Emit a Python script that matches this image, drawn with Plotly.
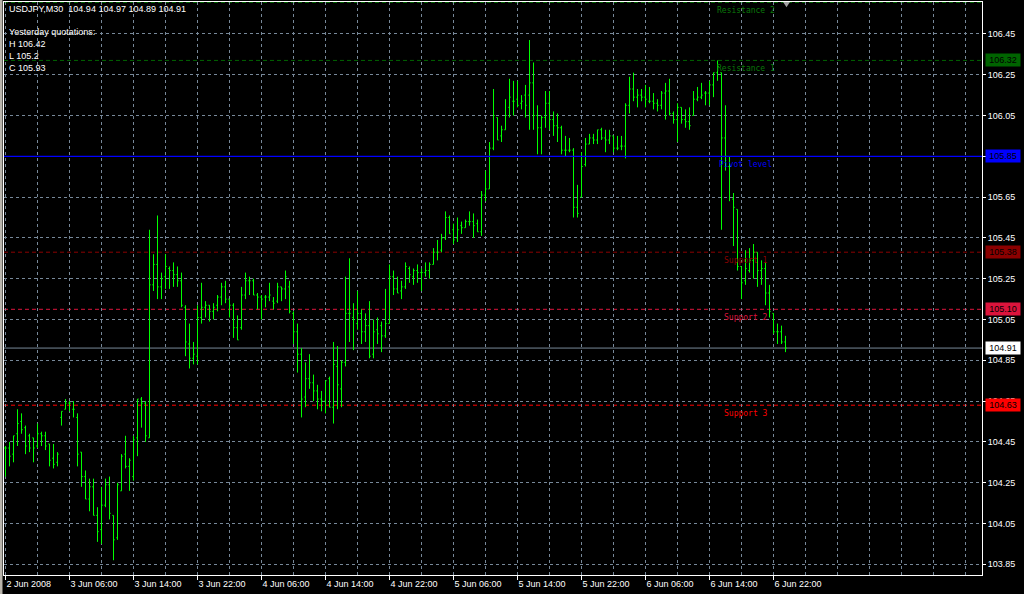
import plotly.graph_objects as go

# ---------------- data ----------------
symbol_header = "USDJPY,M30\u00a0\u00a0104.94 104.97 104.89 104.91"
yesterday_lines = ["Yesterday quotations:", "H 106.42", "L 105.2", "C 105.93"]

opens = [
    104.42, 104.42, 104.39, 104.49, 104.55, 104.52, 104.48, 104.47, 104.43, 104.49,
    104.48, 104.44, 104.37, 104.35, 104.57, 104.61, 104.64, 104.61, 104.57, 104.40,
    104.28, 104.17, 104.23, 104.09, 104.02, 104.14, 104.24, 104.09, 103.98, 104.21,
    104.39, 104.33, 104.28, 104.47, 104.66, 104.64, 104.47, 105.22, 105.32, 105.21,
    105.26, 105.30, 105.29, 105.27, 105.24, 105.11, 104.93, 104.86, 104.87, 105.06,
    105.11, 105.12, 105.09, 105.12, 105.16, 105.21, 105.15, 105.12, 105.01, 105.01,
    105.17, 105.24, 105.24, 105.17, 105.16, 105.16, 105.16, 105.14, 105.14, 105.21,
    105.20, 105.21, 105.08, 104.99, 104.88, 104.67, 104.76, 104.74, 104.70, 104.66,
    104.65, 104.76, 104.62, 104.82, 104.71, 104.84, 105.08, 105.06, 105.03, 105.08,
    104.99, 105.02, 104.88, 105.00, 105.02, 104.97, 105.03, 105.26, 105.20, 105.19,
    105.21, 105.30, 105.26, 105.29, 105.28, 105.28, 105.29, 105.32, 105.38, 105.39,
    105.45, 105.55, 105.49, 105.45, 105.51, 105.50, 105.53, 105.53, 105.52, 105.48,
    105.66, 105.69, 105.89, 106.04, 105.95, 105.98, 106.09, 106.12, 106.13, 106.11,
    106.15, 106.15, 106.21, 106.05, 105.99, 106.04, 106.11, 106.03, 106.00, 105.99,
    105.88, 105.88, 105.88, 105.60, 105.65, 105.81, 105.91, 105.94, 105.93, 105.98,
    105.94, 105.93, 105.95, 105.89, 105.90, 105.90, 106.10, 106.18, 106.14, 106.15,
    106.14, 106.12, 106.12, 106.11, 106.10, 106.16, 106.17, 106.06, 106.03, 106.09,
    106.03, 106.02, 106.05, 106.13, 106.14, 106.16, 106.16, 106.20, 106.26, 106.26,
    105.94, 105.80, 105.64, 105.59, 105.31, 105.24, 105.29, 105.34, 105.38, 105.29,
    105.30, 105.18, 105.08, 104.99, 104.99, 104.94,
]
highs = [
    104.43, 104.45, 104.48, 104.61, 104.59, 104.53, 104.49, 104.47, 104.54, 104.50,
    104.50, 104.44, 104.44, 104.40, 104.60, 104.66, 104.65, 104.65, 104.59, 104.40,
    104.31, 104.27, 104.27, 104.13, 104.23, 104.27, 104.28, 104.09, 104.25, 104.39,
    104.48, 104.37, 104.48, 104.66, 104.67, 104.65, 105.49, 105.37, 105.56, 105.28,
    105.37, 105.31, 105.33, 105.31, 105.28, 105.12, 105.03, 104.94, 105.12, 105.23,
    105.14, 105.12, 105.13, 105.17, 105.23, 105.24, 105.15, 105.13, 105.07, 105.21,
    105.28, 105.26, 105.25, 105.18, 105.17, 105.17, 105.23, 105.16, 105.23, 105.21,
    105.29, 105.24, 105.09, 105.03, 104.91, 104.84, 104.88, 104.78, 104.73, 104.70,
    104.75, 104.77, 104.94, 104.92, 104.85, 105.26, 105.35, 105.13, 105.19, 105.10,
    105.08, 105.14, 105.05, 105.06, 105.04, 105.20, 105.32, 105.29, 105.26, 105.24,
    105.33, 105.31, 105.30, 105.32, 105.30, 105.33, 105.33, 105.40, 105.44, 105.47,
    105.58, 105.56, 105.52, 105.55, 105.53, 105.54, 105.58, 105.57, 105.54, 105.68,
    105.78, 105.92, 106.18, 106.04, 106.00, 106.13, 106.23, 106.22, 106.22, 106.15,
    106.20, 106.42, 106.31, 106.10, 106.05, 106.17, 106.17, 106.07, 106.06, 106.00,
    105.95, 105.94, 105.89, 105.71, 105.87, 105.94, 105.96, 105.96, 105.98, 105.99,
    105.98, 105.98, 105.95, 105.95, 105.95, 106.11, 106.24, 106.26, 106.18, 106.18,
    106.20, 106.19, 106.16, 106.13, 106.17, 106.21, 106.23, 106.07, 106.11, 106.09,
    106.08, 106.09, 106.17, 106.19, 106.21, 106.17, 106.22, 106.26, 106.32, 106.26,
    106.10, 105.85, 105.67, 105.59, 105.31, 105.39, 105.40, 105.42, 105.38, 105.34,
    105.33, 105.22, 105.08, 105.03, 105.02, 104.97,
]
lows = [
    104.28, 104.33, 104.35, 104.43, 104.49, 104.39, 104.40, 104.35, 104.42, 104.43,
    104.41, 104.33, 104.32, 104.33, 104.53, 104.61, 104.60, 104.57, 104.33, 104.23,
    104.17, 104.11, 104.09, 103.96, 103.95, 104.13, 104.07, 103.87, 103.97, 104.21,
    104.32, 104.21, 104.26, 104.38, 104.52, 104.45, 104.47, 105.19, 105.15, 105.15,
    105.20, 105.20, 105.21, 105.21, 105.11, 104.87, 104.81, 104.83, 104.83, 105.03,
    105.06, 105.04, 105.05, 105.09, 105.12, 105.13, 105.06, 104.96, 104.95, 105.00,
    105.15, 105.17, 105.17, 105.10, 105.05, 105.11, 105.14, 105.10, 105.13, 105.14,
    105.15, 105.08, 104.93, 104.79, 104.57, 104.62, 104.71, 104.65, 104.61, 104.60,
    104.59, 104.62, 104.54, 104.61, 104.62, 104.82, 104.94, 104.90, 105.00, 104.93,
    104.94, 104.86, 104.86, 104.93, 104.89, 104.96, 105.03, 105.17, 105.18, 105.15,
    105.20, 105.23, 105.22, 105.23, 105.19, 105.26, 105.25, 105.32, 105.34, 105.38,
    105.44, 105.47, 105.42, 105.43, 105.47, 105.50, 105.51, 105.45, 105.48, 105.46,
    105.63, 105.69, 105.88, 105.93, 105.92, 105.98, 106.04, 106.05, 106.09, 106.08,
    106.04, 105.98, 105.98, 105.86, 105.86, 105.99, 105.98, 105.95, 105.92, 105.86,
    105.85, 105.87, 105.55, 105.55, 105.65, 105.80, 105.91, 105.91, 105.91, 105.93,
    105.87, 105.91, 105.87, 105.88, 105.88, 105.84, 106.06, 106.12, 106.09, 106.12,
    106.09, 106.11, 106.08, 106.07, 106.08, 106.03, 106.05, 106.01, 105.92, 106.01,
    105.99, 105.98, 106.05, 106.12, 106.13, 106.10, 106.10, 106.14, 106.22, 105.49,
    105.78, 105.63, 105.41, 105.29, 105.15, 105.22, 105.28, 105.25, 105.21, 105.22,
    105.12, 105.06, 104.98, 104.93, 104.93, 104.89,
]
closes = [
    104.42, 104.38, 104.48, 104.54, 104.51, 104.43, 104.42, 104.42, 104.49, 104.48,
    104.43, 104.36, 104.34, 104.39, 104.60, 104.64, 104.64, 104.61, 104.39, 104.28,
    104.17, 104.23, 104.09, 104.01, 104.14, 104.24, 104.10, 103.97, 104.24, 104.38,
    104.33, 104.36, 104.46, 104.66, 104.64, 104.48, 105.22, 105.32, 105.21, 105.25,
    105.31, 105.29, 105.27, 105.24, 105.12, 104.94, 104.86, 104.88, 105.06, 105.11,
    105.12, 105.09, 105.11, 105.16, 105.21, 105.15, 105.12, 105.01, 104.95, 105.17,
    105.24, 105.24, 105.17, 105.16, 105.15, 105.16, 105.17, 105.13, 105.21, 105.20,
    105.26, 105.09, 104.99, 104.88, 104.66, 104.76, 104.74, 104.70, 104.66, 104.65,
    104.75, 104.62, 104.83, 104.73, 104.84, 105.08, 105.08, 105.05, 105.08, 104.99,
    105.02, 104.87, 104.99, 104.98, 104.97, 105.03, 105.26, 105.20, 105.18, 105.21,
    105.31, 105.27, 105.29, 105.28, 105.28, 105.29, 105.32, 105.38, 105.38, 105.45,
    105.55, 105.47, 105.44, 105.49, 105.50, 105.53, 105.53, 105.51, 105.48, 105.66,
    105.69, 105.89, 106.05, 105.93, 105.98, 106.05, 106.14, 106.12, 106.10, 106.12,
    106.10, 106.21, 106.05, 105.99, 106.04, 106.11, 106.03, 106.00, 105.99, 105.88,
    105.88, 105.88, 105.60, 105.57, 105.80, 105.91, 105.94, 105.93, 105.98, 105.94,
    105.93, 105.95, 105.89, 105.89, 105.90, 106.10, 106.18, 106.14, 106.15, 106.14,
    106.13, 106.12, 106.11, 106.10, 106.16, 106.17, 106.06, 106.03, 106.09, 106.03,
    106.02, 106.00, 106.13, 106.14, 106.15, 106.16, 106.20, 106.26, 106.29, 105.94,
    105.85, 105.80, 105.60, 105.31, 105.23, 105.30, 105.34, 105.38, 105.29, 105.30,
    105.18, 105.09, 104.99, 104.99, 104.94, 104.91,
]
bar_index = list(range(len(opens)))

x_tick_pos = [0, 16, 32, 48, 64, 80, 96, 112, 128, 144, 160, 176, 192]
x_tick_labels = ["2 Jun 2008", "3 Jun 06:00", "3 Jun 14:00", "3 Jun 22:00",
                 "4 Jun 06:00", "4 Jun 14:00", "4 Jun 22:00", "5 Jun 06:00",
                 "5 Jun 14:00", "5 Jun 22:00", "6 Jun 06:00", "6 Jun 14:00",
                 "6 Jun 22:00"]
y_tick_vals = [103.85, 104.05, 104.25, 104.45, 104.65, 104.85, 105.05,
               105.25, 105.45, 105.65, 105.85, 106.05, 106.25, 106.45]

level_names = ["Resistance 2", "Resistance 1", "Pivot level", "Support 1", "Support 2", "Support 3"]
level_values = [106.604, 106.32, 105.85, 105.38, 105.10, 104.63]
level_colors = ["#006400", "#006400", "#0000FF", "#8B0000", "#DC143C", "#FF0000"]
level_text_colors = ["#0A780A", "#0A780A", "#0000FF", "#8B0000", "#DC143C", "#FF0000"]
level_solid = [False, False, True, False, False, False]
level_box = [False, True, True, True, True, True]
current_price = 104.91

# ---------------- styles ----------------
GRID = "#778899"
LIME = "#00FF00"
UI_FONT = "Liberation Sans, Arial, sans-serif"
MONO_FONT = "DejaVu Sans Mono, Liberation Mono, monospace"

fig = go.Figure()
fig.add_trace(go.Ohlc(
    x=bar_index, open=opens, high=highs, low=lows, close=closes,
    increasing=dict(line=dict(color=LIME, width=1)),
    decreasing=dict(line=dict(color=LIME, width=1)),
    tickwidth=0.3, hoverinfo="skip", showlegend=False,
))

shapes = []
annotations = []
for name, val, col, tcol, solid, box in zip(level_names, level_values, level_colors,
                                            level_text_colors, level_solid, level_box):
    shapes.append(dict(type="line", xref="paper", x0=0, x1=1, yref="y", y0=val, y1=val,
                       line=dict(color=col, width=1.3 if solid else 1,
                                 dash="solid" if solid else "4px,3px"),
                       layer="above" if solid else "between"))
    annotations.append(dict(text=name, xref="x", x=185, xanchor="center", yref="y", y=val,
                            yanchor="top", yshift=-3, showarrow=False, borderpad=0,
                            font=dict(family=MONO_FONT, size=8, color=tcol)))
    if box:
        annotations.append(dict(text=f"{val:.2f}", xref="paper", x=1, xanchor="left", xshift=3,
                                yref="y", y=val, yanchor="middle", showarrow=False,
                                bgcolor=col, borderpad=1, width=32,
                                font=dict(family=UI_FONT, size=9, color="#000000")))

# current price line and label
shapes.append(dict(type="line", xref="paper", x0=0, x1=1, yref="y", y0=current_price, y1=current_price,
                   line=dict(color=GRID, width=1), layer="between"))
annotations.append(dict(text=f"{current_price:.2f}", xref="paper", x=1, xanchor="left", xshift=3,
                        yref="y", y=current_price, yanchor="middle", showarrow=False,
                        bgcolor="#FFFFFF", borderpad=1, width=32,
                        font=dict(family=UI_FONT, size=9, color="#000000")))

# chart shift marker (small triangle at top)
shapes.append(dict(type="path", xref="x", yref="paper",
                   path="M 194.4,1 L 196.1,1 L 195.25,0.991 Z",
                   fillcolor="#A0A0A0", line=dict(width=0), layer="above"))
# window edge strip on the left
shapes.append(dict(type="rect", xref="paper", yref="paper", x0=-4 / 978, x1=-1.5 / 978,
                   y0=-19 / 573, y1=1 + 2 / 573, fillcolor="#B8B4AC", line=dict(width=0)))

header_text = "<br>".join([symbol_header, ""] + yesterday_lines)
annotations.append(dict(text=header_text, xref="paper", x=0, xanchor="left", xshift=4,
                        yref="paper", y=1, yanchor="top", yshift=-1, align="left",
                        showarrow=False, borderpad=0,
                        font=dict(family=UI_FONT, size=9, color="#FFFFFF")))

fig.update_layout(
    width=1024, height=594,
    margin=dict(l=4, r=42, t=2, b=19, pad=0),
    paper_bgcolor="#000000", plot_bgcolor="#000000",
    showlegend=False, shapes=shapes, annotations=annotations,
    xaxis=dict(
        type="linear", range=[-0.375, 244.125],
        tickmode="array", tickvals=x_tick_pos, ticktext=x_tick_labels,
        ticks="outside", ticklen=4, tickcolor="#FFFFFF", tickwidth=1,
        ticklabelposition="outside right",
        tickfont=dict(family=UI_FONT, size=9, color="#FFFFFF"),
        showgrid=True, gridcolor=GRID, griddash="3px,3px", gridwidth=1,
        minor=dict(tickmode="linear", tick0=0, dtick=8, showgrid=True,
                   gridcolor=GRID, griddash="3px,3px", gridwidth=1, ticks=""),
        showline=True, linecolor="#FFFFFF", linewidth=1, mirror=True,
        zeroline=False, rangeslider=dict(visible=False), fixedrange=True,
    ),
    yaxis=dict(
        side="right", range=[103.7976, 106.6064],
        tickmode="array", tickvals=y_tick_vals, ticktext=[f"{v:.2f}" for v in y_tick_vals],
        ticks="outside", ticklen=3, tickcolor="#FFFFFF", tickwidth=1,
        tickfont=dict(family=UI_FONT, size=9, color="#FFFFFF"),
        showgrid=True, gridcolor=GRID, griddash="3px,3px", gridwidth=1,
        showline=True, linecolor="#FFFFFF", linewidth=1, mirror=True,
        zeroline=False, fixedrange=True,
    ),
)

fig.write_html("out.html", config={"displayModeBar": False},
               post_script="document.body.style.margin='0';document.body.style.overflow='hidden';")
